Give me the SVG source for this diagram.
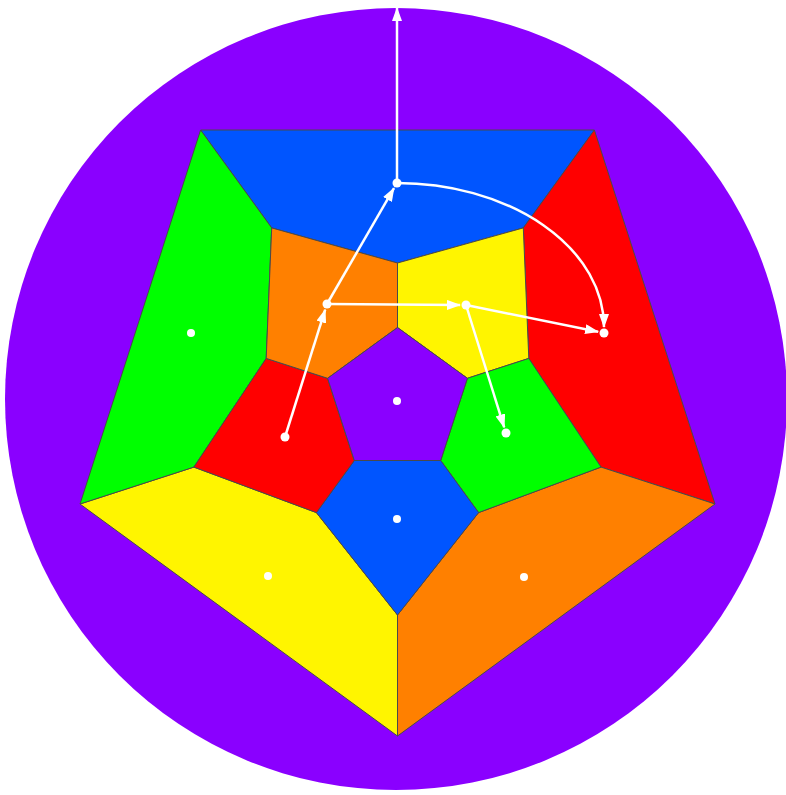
<svg xmlns="http://www.w3.org/2000/svg" width="786" height="795" viewBox="0 0 786 795">
<style>
.f{stroke:#4a4a4a;stroke-width:1;stroke-linejoin:round}
.pu{fill:#8a00ff}.bl{fill:#0055ff}.gr{fill:#00ff00}.rd{fill:#ff0000}.or{fill:#ff8000}.ye{fill:#fff500}
.dot{fill:#fff}
.c{fill:none;stroke:#fff;stroke-width:2.5;marker-end:url(#ah)}
</style>
<defs>
<marker id="ah" viewBox="0 0 14 10" refX="13" refY="5" markerWidth="14" markerHeight="10" markerUnits="userSpaceOnUse" orient="auto">
<path d="M0,0 L14,5 L0,10 z" fill="#fff"/>
</marker>
</defs>
<rect width="786" height="795" fill="#fff"/>
<g id="outer-face"><circle cx="396" cy="399" r="391" class="pu"/></g>
<g id="face-top-blue"><polygon class="f bl" points="397.5,263 271.7,227.9 200.6,130 594.4,130 523.3,227.9"/></g>
<g id="face-right-red"><polygon class="f rd" points="528.8,358.4 523.3,227.9 594.4,130 715,504 601,467.1"/></g>
<g id="face-bottomright-orange"><polygon class="f or" points="478.6,512.6 601,467.1 715,504 397.5,736 397.5,615"/></g>
<g id="face-bottomleft-yellow"><polygon class="f ye" points="316.4,512.6 397.5,615 397.5,736 80,504 193.9,467.1"/></g>
<g id="face-left-green"><polygon class="f gr" points="266.2,358.4 193.9,467.1 80,504 200.6,130 271.7,227.9"/></g>
<g id="face-inner-yellow"><polygon class="f ye" points="397.5,327.5 397.5,263 523.3,227.9 528.8,358.4 467.4,378.3"/></g>
<g id="face-inner-green"><polygon class="f gr" points="467.4,378.3 528.8,358.4 601,467.1 478.6,512.6 440.7,460.5"/></g>
<g id="face-inner-blue"><polygon class="f bl" points="440.7,460.5 478.6,512.6 397.5,615 316.4,512.6 354.3,460.5"/></g>
<g id="face-inner-red"><polygon class="f rd" points="354.3,460.5 316.4,512.6 193.9,467.1 266.2,358.4 327.6,378.3"/></g>
<g id="face-inner-orange"><polygon class="f or" points="327.6,378.3 266.2,358.4 271.7,227.9 397.5,263 397.5,327.5"/></g>
<g id="face-center-purple"><polygon class="f pu" points="397.5,327.5 467.4,378.3 440.7,460.5 354.3,460.5 327.6,378.3"/></g>
<g id="connectors">
<line class="c" x1="397" y1="183" x2="397" y2="8"/>
<line class="c" x1="285" y1="437" x2="325.2" y2="309.7"/>
<line class="c" x1="327" y1="304" x2="394" y2="188.2"/>
<line class="c" x1="327" y1="304" x2="460" y2="305"/>
<line class="c" x1="466" y1="305" x2="504.2" y2="427.3"/>
<line class="c" x1="466" y1="305" x2="598.1" y2="331.8"/>
<path class="c" d="M397,183 A207,144 0 0 1 604,327"/>
</g>
<g id="dots">
<circle class="dot" cx="397" cy="183" r="4.5"/>
<circle class="dot" cx="327" cy="304" r="4.5"/>
<circle class="dot" cx="466" cy="305" r="4.5"/>
<circle class="dot" cx="604" cy="333" r="4.5"/>
<circle class="dot" cx="285" cy="437" r="4.5"/>
<circle class="dot" cx="506" cy="433" r="4.5"/>
<circle class="dot" cx="191" cy="333" r="4"/>
<circle class="dot" cx="397" cy="401" r="4"/>
<circle class="dot" cx="397" cy="519" r="4"/>
<circle class="dot" cx="268" cy="576" r="4"/>
<circle class="dot" cx="524" cy="577" r="4"/>
</g>
</svg>
